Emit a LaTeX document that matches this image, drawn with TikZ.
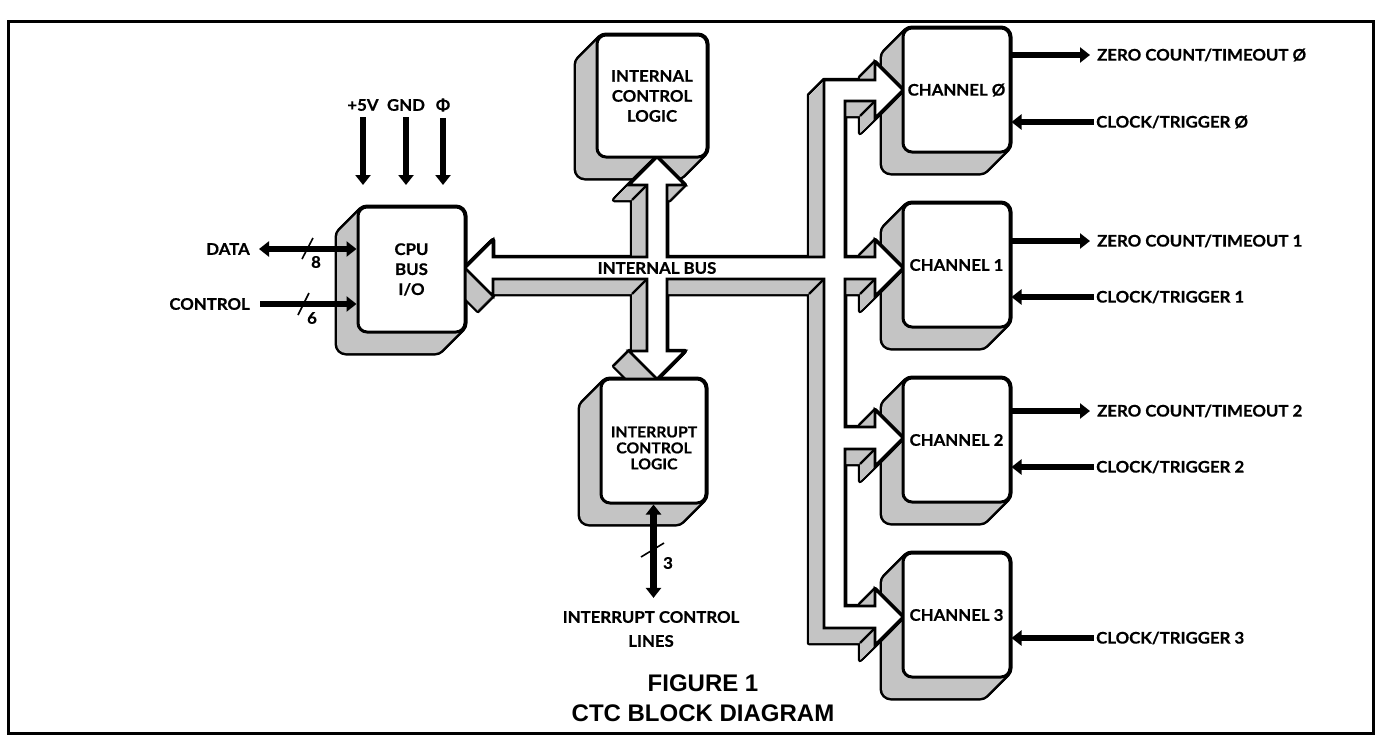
\documentclass[tikz,border=0pt]{standalone}
\usepackage{fontspec}
\usetikzlibrary{arrows.meta}
\newfontfamily\lbfont{Lato}[FakeStretch=1.05, BoldFeatures={FakeBold=0.6}]
\newfontfamily\capfont{Liberation Sans}
\newcommand\lbl{\lbfont\bfseries\fontsize{16}{20}\selectfont}
\definecolor{shadowgrey}{gray}{0.77}
\tikzset{
  blk/.style={draw, line width=3pt, rounded corners=9pt, fill=white, align=center, font=\lbl, inner sep=0pt},
  lab/.style={font=\lbl, inner sep=0pt},
  sig/.style={line width=6.5pt, -{Triangle[length=10pt,width=15pt]}},
  sigboth/.style={line width=6.5pt, {Triangle[length=10pt,width=15pt]}-{Triangle[length=10pt,width=15pt]}},
  tick/.style={line width=1.6pt},
  busface/.style={draw, line width=2.6pt, fill=white, line join=miter},
  fold/.style={line width=2.2pt},
  shadowfill/.style={fill=shadowgrey},
}
\newcommand\blkshadow[4]{%
  \foreach \t in {0,...,21}{\draw[line width=5pt, rounded corners=9pt, shift={(-\t,\t)}] (#1,#2) rectangle (#3,#4);}%
  \foreach \t in {0,...,21}{\path[shadowfill, rounded corners=9pt, shift={(-\t,\t)}] (#1,#2) rectangle (#3,#4);}%
}
\def\buspath{(465,268) -- (493,240) -- (493,257) -- (647,257) -- (647,185) -- (629,185) -- (657,157) -- (685,185) -- (667,185) -- (667,257) -- (824,257) -- (824,80) -- (875,80) -- (875,62) -- (903,90) -- (875,118) -- (875,101) -- (845,101) -- (845,257) -- (875,257) -- (875,240) -- (903,268) -- (875,296) -- (875,279) -- (845,279) -- (845,427) -- (875,427) -- (875,410) -- (903,438) -- (875,466) -- (875,449) -- (845,449) -- (845,606) -- (875,606) -- (875,589) -- (903,617) -- (875,645) -- (875,628) -- (824,628) -- (824,279) -- (667,279) -- (667,351) -- (685,351) -- (657,379) -- (629,351) -- (647,351) -- (647,279) -- (493,279) -- (493,296) -- cycle}
\begin{document}
\begin{tikzpicture}[x=1pt,y=-1pt]
\useasboundingbox (0,0) rectangle (1380,736);
% frame
\draw[line width=3pt] (8,21) rectangle (1373,733);
% block shadows
\blkshadow{358}{207}{465}{332}
\blkshadow{597}{35}{707}{157}
\blkshadow{601}{379}{706}{503}
\foreach \ty in {28,203,378,553}{\blkshadow{903}{\ty}{1010}{\ty+124}}
% bus extrusion
\foreach \t in {0,...,15}{\draw[line width=4.5pt, line join=round, shift={(-\t,\t)}] \buspath;}
\foreach \t in {0,...,15}{\path[shadowfill, shift={(-\t,\t)}] \buspath;}
\foreach \p in {(647,279),(824,279),(875,101),(875,279),(875,449),(875,628),(647,185)}{\draw[fold] \p -- ++(-15,15);}
\draw[busface] \buspath;
% block fronts
\node[blk, minimum width=107pt, minimum height=125pt] (cpu) at (411.5,269.5) {CPU\\BUS\\I/O};
\node[blk, minimum width=110pt, minimum height=122pt] (icl) at (652,96) {INTERNAL\\CONTROL\\LOGIC};
\node[blk, minimum width=105pt, minimum height=124pt] (irq) at (653.5,441) {};
\node[lab, align=center, font=\lbfont\bfseries\fontsize{15}{16}\selectfont] (irqt) at (654,448) {INTERRUPT\\CONTROL\\LOGIC};
\node[blk, minimum width=107pt, minimum height=124pt] (ch0) at (956.5,90) {CHANNEL Ø};
\node[blk, minimum width=107pt, minimum height=124pt] (ch1) at (956.5,265) {CHANNEL 1};
\node[blk, minimum width=107pt, minimum height=124pt] (ch2) at (956.5,440) {CHANNEL 2};
\node[blk, minimum width=107pt, minimum height=124pt] (ch3) at (956.5,615) {CHANNEL 3};
\node[lab] (ibus) at (657,268) {INTERNAL BUS};
% power inputs
\node[lab] (p5) at (363,105) {+5V};
\node[lab] (gnd) at (406,105) {GND};
\node[lab] (phi) at (443,105) {Φ};
\coordinate (pwr) at (0,185);
\draw[sig, shorten <=6pt] (p5.south) -- (p5.south |- pwr);
\draw[sig, shorten <=6pt] (gnd.south) -- (gnd.south |- pwr);
\draw[sig, shorten <=6pt] (phi.south) -- (phi.south |- pwr);
% data / control
\node[lab, anchor=east] (data) at (250,249) {DATA};
\node[lab, anchor=east] (ctrl) at (250,304) {CONTROL};
\draw[sigboth, shorten <=9pt] (data.east) -- (cpu.west |- data.east);
\draw[sig, shorten <=10pt] (ctrl.east) -- (cpu.west |- ctrl.east);
\draw[tick] (302,259) -- (313,238); \node[lab] (n8) at (316,262) {8};
\draw[tick] (298,315) -- (309,293); \node[lab] (n6) at (312,318) {6};
% interrupt lines
\node[lab, align=center, font=\lbfont\bfseries\fontsize{16}{24}\selectfont] (irql) at (651,629) {INTERRUPT CONTROL\\LINES};
\draw[sigboth, shorten >=13pt] (irq.south) -- (irq.south |- irql.north);
\draw[tick] (641,557) -- (664,543); \node[lab] (n3) at (668,563) {3};
% channel signals
\node[lab, anchor=west] (zc0) at (1097,55) {ZERO COUNT/TIMEOUT Ø};
\node[lab, anchor=west] (zc1) at (1097,241) {ZERO COUNT/TIMEOUT 1};
\node[lab, anchor=west] (zc2) at (1097,411) {ZERO COUNT/TIMEOUT 2};
\node[lab, anchor=west] (ct0) at (1096,122) {CLOCK/TRIGGER Ø};
\node[lab, anchor=west] (ct1) at (1096,297) {CLOCK/TRIGGER 1};
\node[lab, anchor=west] (ct2) at (1096,467) {CLOCK/TRIGGER 2};
\node[lab, anchor=west] (ct3) at (1096,638) {CLOCK/TRIGGER 3};
\draw[sig, shorten >=7pt] (ch0.east |- zc0.west) -- (zc0.west);
\draw[sig, shorten >=7pt] (ch1.east |- zc1.west) -- (zc1.west);
\draw[sig, shorten >=7pt] (ch2.east |- zc2.west) -- (zc2.west);
\draw[sig, shorten <=2pt] (ct0.west) -- (ch0.east |- ct0.west);
\draw[sig, shorten <=2pt] (ct1.west) -- (ch1.east |- ct1.west);
\draw[sig, shorten <=2pt] (ct2.west) -- (ch2.east |- ct2.west);
\draw[sig, shorten <=2pt] (ct3.west) -- (ch3.east |- ct3.west);
% caption
\node[font=\capfont\bfseries\fontsize{24}{28}\selectfont, inner sep=0pt] (cap1) at (703,683) {FIGURE 1};
\node[font=\capfont\bfseries\fontsize{24}{28}\selectfont, inner sep=0pt] (cap2) at (703,713) {CTC BLOCK DIAGRAM};
\end{tikzpicture}
\end{document}
